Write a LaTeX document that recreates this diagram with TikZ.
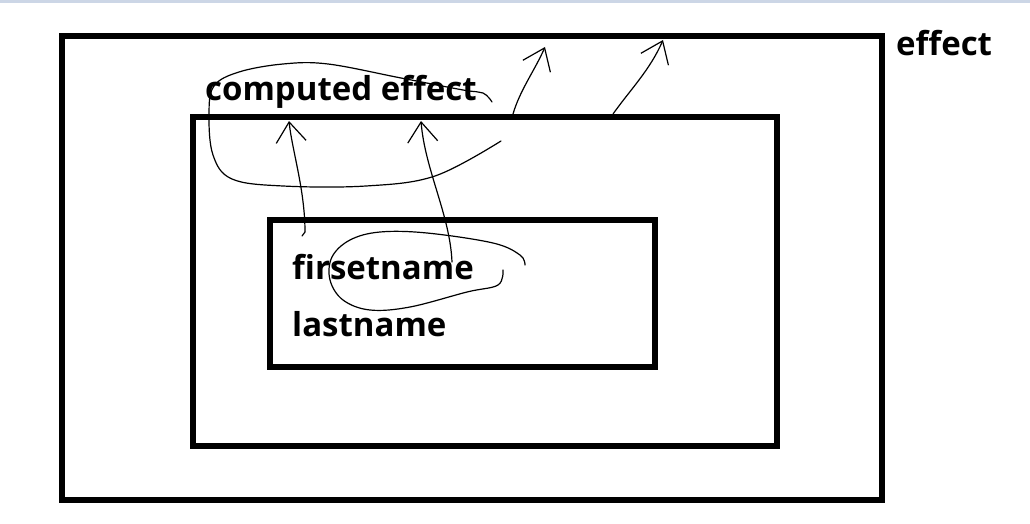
\documentclass[tikz,border=0pt]{standalone}
\usepackage{fontspec}
\setmainfont{Open Sans}
\usetikzlibrary{arrows.meta}
\definecolor{topbar}{RGB}{204,214,230}

\begin{document}
\begin{tikzpicture}[
  x=1pt, y=-1pt,
  frame/.style={rectangle, draw, line width=6.5pt, inner sep=0pt},
  word/.style={anchor=base west, inner sep=0pt, font=\bfseries\fontsize{33}{38}\selectfont},
  stroke/.style={line width=1.2pt, line cap=round, line join=round},
  tip/.style={stroke, -{Straight Barb[length=20pt, width=30pt]}}
]
\useasboundingbox (0,0) rectangle (1030,524);
\fill[topbar] (0,0) rectangle (1030,3);

% boxes
\node[frame, minimum width=820pt, minimum height=464pt] (outer) at (472,268) {};
\node[frame, minimum width=584pt, minimum height=329pt] (middle) at (485,281.5) {};
\node[frame, minimum width=385pt, minimum height=147pt] (inner) at (462.5,293.5) {};

% texts
\node[word] (effect) at (896,56) {effect};
\node[word] (computed) at (205,101) {computed effect};
\node[word] (first) at (292,279) {firsetname};
\node[word] (last) at (292,336) {lastname};

% hand drawn arrows
\coordinate (a1) at (305,232);
\coordinate (b1) at (289,121);
\coordinate (a2) at (452,262);
\coordinate (b2) at (421,121);
\coordinate (a3) at (513,114);
\coordinate (b3) at (545,47);
\coordinate (a4) at (613,114);
\coordinate (b4) at (663,40);
\draw[stroke] (302,236) -- (a1);
\draw[tip] (a1) .. controls (305,190) and (292,150) .. (b1);
\draw[tip] (a2) .. controls (450,215) and (425,170) .. (b2);
\draw[tip] (a3) .. controls (520,90) and (535,70) .. (b3);
\draw[tip] (a4) .. controls (630,90) and (650,70) .. (b4);

% loops
\draw[stroke] plot[smooth, tension=0.6] coordinates {(501,141) (435,176) (366,186) (283,186) (232,179) (213,155) (209,114) (214,86) (239,72) (283,64) (328,64) (401,78) (463,90) (483,93) (492,102)};
\draw[stroke] plot[smooth, tension=0.6] coordinates {(503,270) (498,285) (467,292) (410,307) (370,310) (343,300) (330,280) (332,257) (350,240) (380,232) (427,233) (493,243) (520,255) (525,265)};
\end{tikzpicture}
\end{document}
